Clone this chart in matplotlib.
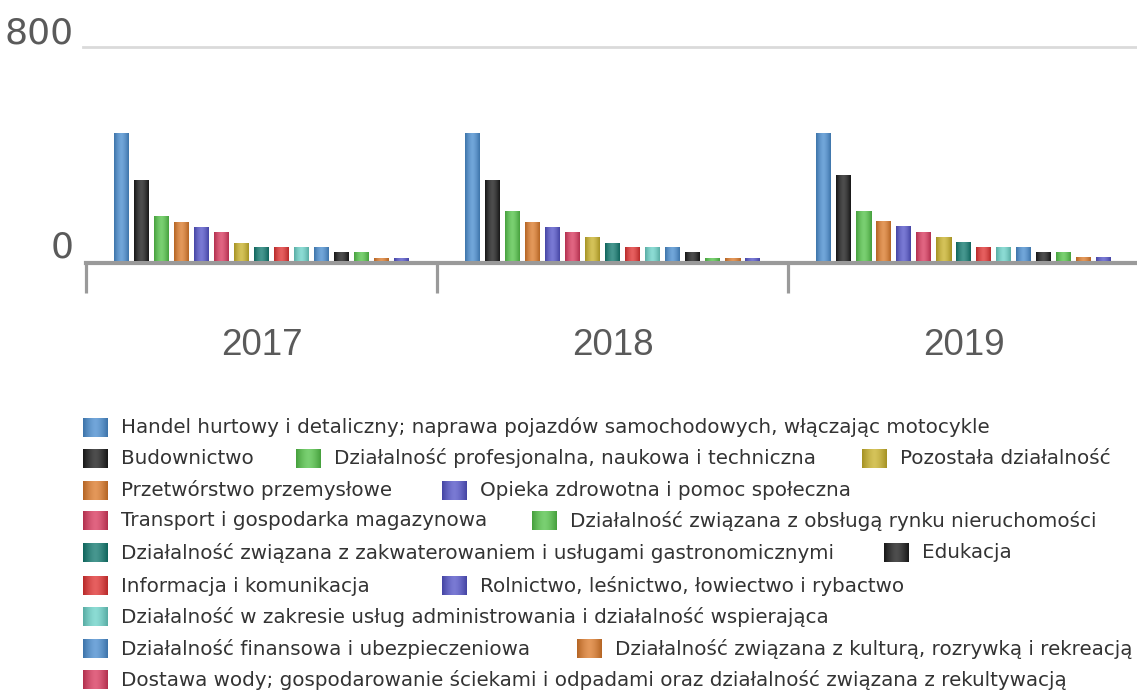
import numpy as np
import matplotlib
matplotlib.use("Agg")
import matplotlib.pyplot as plt
from matplotlib.colors import to_rgb
from matplotlib.transforms import ScaledTranslation

# Data
years = ["2017", "2018", "2019"]

# bar order inside each year group
sectors = [
    "Handel hurtowy i detaliczny; naprawa pojazdów samochodowych, włączając motocykle",
    "Budownictwo",
    "Działalność profesjonalna, naukowa i techniczna",
    "Przetwórstwo przemysłowe",
    "Opieka zdrowotna i pomoc społeczna",
    "Transport i gospodarka magazynowa",
    "Pozostała działalność",
    "Działalność związana z zakwaterowaniem i usługami gastronomicznymi",
    "Informacja i komunikacja",
    "Działalność w zakresie usług administrowania i działalność wspierająca",
    "Działalność finansowa i ubezpieczeniowa",
    "Edukacja",
    "Działalność związana z obsługą rynku nieruchomości",
    "Działalność związana z kulturą, rozrywką i rekreacją",
    "Rolnictwo, leśnictwo, łowiectwo i rybactwo",
]
extra_sector = "Dostawa wody; gospodarowanie ściekami i odpadami oraz działalność związana z rekultywacją"

values_2017 = [476, 300, 165, 145, 126, 106, 67, 49, 49, 49, 49, 30, 30, 11, 11]
values_2018 = [476, 300, 185, 145, 126, 106, 87, 67, 49, 49, 49, 30, 11, 11, 11]
values_2019 = [476, 320, 185, 147, 128, 108, 89, 69, 50, 50, 50, 32, 32, 13, 13]
values = [values_2017, values_2018, values_2019]

palette = ["#4a8dcf", "#1c1c1c", "#55c34a", "#dc7b2c", "#5454c8",
           "#d93a5f", "#c9b22b", "#137a70", "#e03333", "#6cd2c8"]

# legend reading order (flow layout, row by row)
legend_order = [0, 1, 2, 6, 3, 4, 5, 12, 7, 11, 8, 14, 9, 10, 13, 15]

# layout of legend items: (row centre y px, square left x px)
legend_layout = [(427, 83),
                 (458, 83), (458, 296), (458, 862),
                 (490, 83), (490, 442),
                 (521, 83), (521, 532),
                 (553, 83), (553, 884),
                 (586, 83), (586, 442),
                 (617, 83),
                 (649, 83), (649, 577),
                 (680, 83)]

W, H = 1137, 691


def gradient(c, n=40):
    c = np.array(to_rgb(c))
    t = np.linspace(-1, 1, n)
    k = 1 - np.abs(t) ** 1.5
    rgb = c[None, :] * (0.82 + 0.18 * k[:, None]) + (1 - c[None, :]) * 0.22 * k[:, None]
    return np.clip(rgb, 0, 1)[None, :, :]


fig = plt.figure(figsize=(W / 100, H / 100), dpi=100)
ax = fig.add_axes([86 / W, 1 - 261 / H, 1053 / W, 214 / H])
ax.set_xlim(-0.5, 2.5)
ax.set_ylim(0, 800)
for s in ax.spines.values():
    s.set_visible(False)
ax.patch.set_alpha(0)

pitch = 20 / 351
bw = 15 / 351
n = len(sectors)
for i in range(n):
    col = palette[i % len(palette)]
    xs = np.arange(len(years)) + (i - (n - 1) / 2) * pitch
    hs = [v[i] for v in values]
    bars = ax.bar(xs, hs, width=bw, color=col, zorder=3)
    for b in bars:
        ax.imshow(gradient(col), extent=[b.get_x(), b.get_x() + b.get_width(), 0, b.get_height()],
                  aspect="auto", interpolation="bicubic", zorder=4)
ax.set_xlim(-0.5, 2.5)
ax.set_ylim(0, 800)

ax.axhline(800, xmin=-0.003, color="#dadada", lw=2, clip_on=False, zorder=1)
base = ax.axhline(0, color="#9a9a9a", lw=3, clip_on=False, zorder=2)
base.set_transform(base.get_transform() + ScaledTranslation(0, -0.015, fig.dpi_scale_trans))

ax.set_xticks([-0.5, 0.5, 1.5, 2.5])
ax.tick_params(axis="x", length=23, width=2.3, color="#9a9a9a", labelbottom=False, direction="out")
ax.set_yticks([0, 800])
ax.set_yticklabels(["0", "800"], fontsize=26, color="#5a5a5a", family="DejaVu Sans")
ax.tick_params(axis="y", length=0, pad=9)
for lbl in ax.get_yticklabels():
    lbl.set_transform(lbl.get_transform() + ScaledTranslation(0, 0.17, fig.dpi_scale_trans))

for j, y in enumerate(years):
    ax.text(j, -315, y, ha="center", va="center", fontsize=26.5, color="#5a5a5a",
            family="Liberation Sans", clip_on=False)

# legend drawn in pixel coordinates
lax = fig.add_axes([0, 0, 1, 1])
lax.set_xlim(0, W)
lax.set_ylim(H, 0)
lax.axis("off")
lax.patch.set_alpha(0)
all_names = sectors + [extra_sector]
for idx, (yc, xs) in zip(legend_order, legend_layout):
    col = palette[idx % len(palette)]
    lax.imshow(gradient(col), extent=[xs, xs + 25, yc + 9.5, yc - 9.5],
               aspect="auto", interpolation="bicubic")
    lax.text(xs + 38, yc, all_names[idx], ha="left", va="center", fontsize=14.3,
             color="#333333", family="DejaVu Sans")
lax.set_xlim(0, W)
lax.set_ylim(H, 0)

fig.savefig("out.png", dpi=100)
